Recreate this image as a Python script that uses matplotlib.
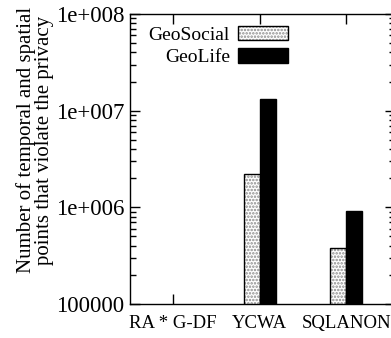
import numpy as np
import matplotlib.pyplot as plt
from matplotlib.ticker import LogLocator, FixedLocator, FixedFormatter, NullFormatter

plt.rcParams['font.family'] = ['Liberation Serif', 'DejaVu Serif']
plt.rcParams['hatch.linewidth'] = 1.2

categories = ['RA * G-DF', 'YCWA', 'SQLANON']
geosocial = [0, 2.2e6, 3.8e5]
geolife = [0, 1.33e7, 9.2e5]
ytick_vals = [1e5, 1e6, 1e7, 1e8]
ytick_labels = ['100000', '1e+006', '1e+007', '1e+008']

fig = plt.figure(figsize=(3.91, 3.38), dpi=100)
ax = fig.add_axes([130 / 391, 34 / 338, 265 / 391, 290 / 338])

x = np.arange(len(categories))
w = 0.185

# dotted fill in grey, outline in black on top
dots = ax.bar(x - w / 2, geosocial, w, color='white', edgecolor='0.55',
              hatch='.....', linewidth=0)
outl = ax.bar(x - w / 2, geosocial, w, fill=False, edgecolor='black', linewidth=1.0)
life = ax.bar(x + w / 2, geolife, w, color='black', edgecolor='black', linewidth=1.0)

ax.set_yscale('log')
ax.set_ylim(1e5, 1e8)
ax.set_xlim(-0.5, 2.564)

ax.yaxis.set_major_locator(FixedLocator(ytick_vals))
ax.yaxis.set_major_formatter(FixedFormatter(ytick_labels))
ax.yaxis.set_minor_locator(LogLocator(base=10, subs=np.arange(2, 10)))
ax.yaxis.set_minor_formatter(NullFormatter())
ax.set_xticks(x)
ax.set_xticklabels(categories, fontsize=13.5)

ax.tick_params(axis='both', which='both', direction='in', top=True, right=True)
ax.tick_params(axis='both', which='major', length=7, width=1.0)
ax.tick_params(axis='both', which='minor', length=4, width=1.0)
ax.tick_params(axis='y', which='major', labelsize=16.5, pad=4)
ax.tick_params(axis='x', which='major', pad=8)
for s in ax.spines.values():
    s.set_linewidth(1.0)

fig.text(35 / 391, 1 - 140 / 338,
         'Number of temporal and spatial\npoints that violate the privacy',
         rotation=90, ha='center', va='center', multialignment='center',
         fontsize=15, linespacing=0.95)

leg = ax.legend([(dots[0], outl[0]), life[0]], ['GeoSocial', 'GeoLife'],
                loc='upper right', bbox_to_anchor=(0.597, 0.96),
                markerfirst=False, frameon=False, fontsize=14,
                handlelength=2.6, handleheight=0.75, handletextpad=0.4,
                labelspacing=0.25, borderpad=0, borderaxespad=0)
for t in leg.get_texts():
    t.set_ha('right')

fig.savefig('out.png', dpi=100)
